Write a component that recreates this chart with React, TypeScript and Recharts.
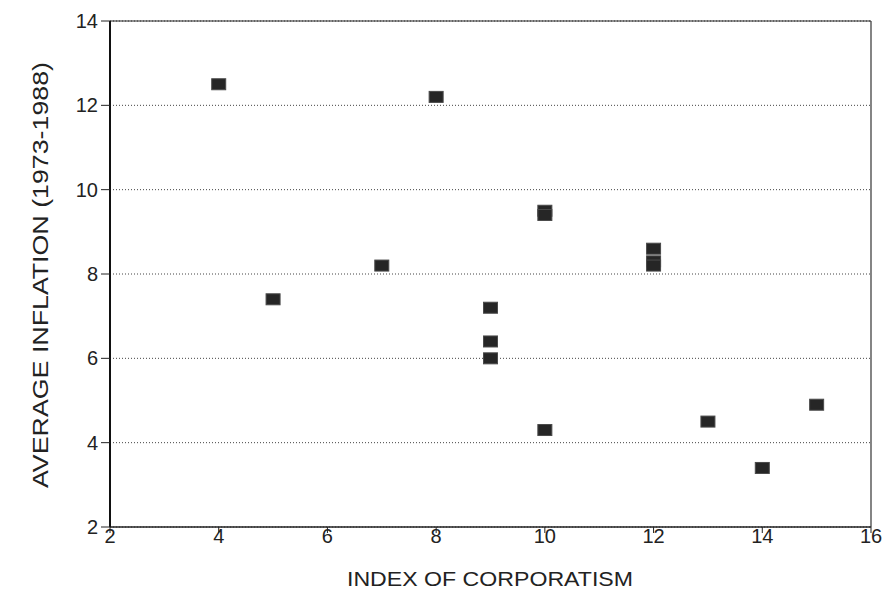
import React from "react";
import {
  ScatterChart,
  Scatter,
  XAxis,
  YAxis,
  CartesianGrid,
  ReferenceLine,
} from "recharts";

// index of corporatism per country and its average inflation 1973-1988
const corporatism = [4, 8, 5, 7, 9, 9, 9, 10, 10, 10, 12, 12, 12, 13, 14, 15];
const inflation = [12.5, 12.2, 7.4, 8.2, 7.2, 6.4, 6.0, 9.5, 9.4, 4.3, 8.6, 8.3, 8.2, 4.5, 3.4, 4.9];

const xTicks = [2, 4, 6, 8, 10, 12, 14, 16];
const yTicks = [2, 4, 6, 8, 10, 12, 14];

const FONT = '"Liberation Sans", Arial, Helvetica, sans-serif';

const points = corporatism.map((x, i) => ({ x, y: inflation[i] }));

function SquareMarker(props: any) {
  const { cx, cy } = props;
  return (
    <rect
      x={cx - 7}
      y={cy - 5.5}
      width={14}
      height={11}
      fill="#262626"
      stroke="#4a4a4a"
      strokeWidth={1}
    />
  );
}

function XTick(props: any) {
  const { x, y, payload } = props;
  return (
    <text x={x} y={y} dy={10} textAnchor="middle" fontFamily={FONT} fontSize={20} fill="#222">
      {payload.value}
    </text>
  );
}

function YTick(props: any) {
  const { x, y, payload } = props;
  return (
    <text x={x} y={y} dy={7} textAnchor="end" fontFamily={FONT} fontSize={20} fill="#222">
      {payload.value}
    </text>
  );
}

function XTitle() {
  return (
    <text
      x={490}
      y={586}
      textAnchor="middle"
      fontFamily={FONT}
      fontSize={21}
      fill="#222"
      textLength={286}
      lengthAdjust="spacingAndGlyphs"
    >
      INDEX OF CORPORATISM
    </text>
  );
}

function YTitle() {
  return (
    <text
      transform="translate(48,275) rotate(-90)"
      textAnchor="middle"
      fontFamily={FONT}
      fontSize={22}
      fill="#222"
      textLength={426}
      lengthAdjust="spacingAndGlyphs"
    >
      AVERAGE INFLATION (1973-1988)
    </text>
  );
}

export default function App() {
  return (
    <div style={{ position: "absolute", left: 0, top: 0, background: "#fff" }}>
      <ScatterChart
        width={882}
        height={590}
        margin={{ top: 21, right: 11, bottom: 0, left: 0 }}
      >
        <CartesianGrid
          horizontal={true}
          vertical={false}
          stroke="#444"
          strokeDasharray="1 2"
        />
        <XAxis
          type="number"
          dataKey="x"
          domain={[2, 16]}
          ticks={xTicks}
          interval={0}
          height={63}
          tickSize={6}
          tickMargin={0}
          tick={<XTick />}
          axisLine={{ stroke: "#222", strokeWidth: 1.5 }}
          tickLine={{ stroke: "#222" }}
          label={{ content: () => <XTitle /> }}
        />
        <YAxis
          type="number"
          dataKey="y"
          domain={[2, 14]}
          ticks={yTicks}
          interval={0}
          width={110}
          tickSize={9}
          tickMargin={3}
          tick={<YTick />}
          axisLine={{ stroke: "#111", strokeWidth: 2 }}
          tickLine={{ stroke: "#222" }}
          label={{ content: () => <YTitle /> }}
        />
        <ReferenceLine y={14} stroke="#222" strokeWidth={1.2} />
        <ReferenceLine x={16} stroke="#333" strokeWidth={1.2} />
        <Scatter
          data={points}
          shape={<SquareMarker />}
          isAnimationActive={false}
        />
      </ScatterChart>
    </div>
  );
}
